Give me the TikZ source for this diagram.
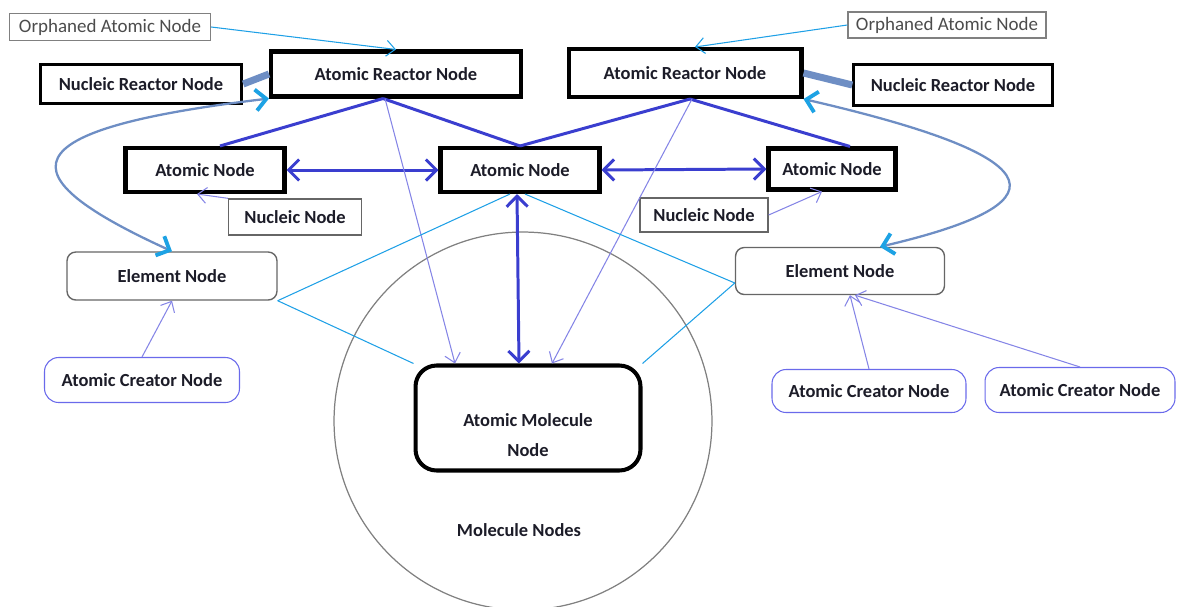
\documentclass[tikz,border=0pt]{standalone}
\usepackage{fontspec}
\setmainfont{Carlito}
\usetikzlibrary{arrows.meta}
\definecolor{skyline}{HTML}{1EA0E6}
\definecolor{bond}{HTML}{3A3ECF}
\definecolor{lilac}{HTML}{8585E6}
\definecolor{steel}{HTML}{6E8EC4}
\definecolor{tipblue}{HTML}{1DA2E4}
\definecolor{ink}{HTML}{1C1C28}

\begin{document}
\begin{tikzpicture}[x=0.02cm,y=-0.02cm,>={Straight Barb[length=5pt,width=9pt]},
  every node/.style={font=\fontsize{10.5}{17}\selectfont\bfseries,text=ink,inner sep=0pt},
  orphan/.style={draw=gray,line width=0.8pt,fill=white,font=\fontsize{10.8}{13}\selectfont,text=black!70},
  reactor/.style={draw=black,line width=2.3pt,fill=white},
  plainbox/.style={draw=gray!80!black,line width=0.8pt,fill=white},
  element/.style={draw=gray!80!black,line width=0.8pt,fill=white,rounded corners=5pt},
  creator/.style={draw=lilac!80!blue,line width=0.6pt,fill=white,rounded corners=8pt},
  bondline/.style={bond,line width=1.7pt},
  bondarrow/.style={bondline,{Straight Barb[length=6pt,width=12pt]}-{Straight Barb[length=6pt,width=12pt]}},
  thinarrow/.style={lilac,line width=0.6pt,->},
  cyanline/.style={skyline,line width=0.6pt},
  curvy/.style={steel,line width=1.3pt,{Straight Barb[color=tipblue,line width=2.2pt,length=6pt,width=12pt]}-{Straight Barb[color=tipblue,line width=2.2pt,length=6pt,width=12pt]}}]
  \useasboundingbox (0,0) rectangle (1177,606);
  \node[circle,draw=gray,line width=0.7pt,minimum size=7.56cm] (cloud) at (523,421) {};
  \node (cloudcap) at (519,530) {Molecule Nodes};

  \node[orphan,minimum width=4.02cm,minimum height=0.54cm] (orphL) at (110,27) {Orphaned Atomic Node};
  \node[orphan,minimum width=3.96cm,minimum height=0.52cm] (orphR) at (947,25) {Orphaned Atomic Node};
  \node[reactor,minimum width=5.0cm,minimum height=0.9cm] (reactL) at (396,74) {Atomic Reactor Node};
  \node[reactor,minimum width=4.66cm,minimum height=0.96cm] (reactR) at (685,73) {Atomic Reactor Node};
  \node[reactor,line width=1.7pt,minimum width=4.03cm,minimum height=0.77cm] (nucRL) at (141,84) {Nucleic Reactor Node};
  \node[reactor,line width=1.7pt,minimum width=3.97cm,minimum height=0.81cm] (nucRR) at (953,85) {Nucleic Reactor Node};
  \node[reactor,minimum width=3.18cm,minimum height=0.88cm] (atomL) at (205,170) {Atomic Node};
  \node[reactor,minimum width=3.18cm,minimum height=0.88cm] (atomC) at (520,170) {Atomic Node};
  \node[reactor,minimum width=2.54cm,minimum height=0.82cm] (atomR) at (832,169) {Atomic Node};
  \node[plainbox,minimum width=2.66cm,minimum height=0.72cm] (nuclL) at (295,217) {Nucleic Node};
  \node[plainbox,minimum width=2.56cm,minimum height=0.68cm] (nuclR) at (704,215) {Nucleic Node};
  \node[element,minimum width=4.2cm,minimum height=0.96cm] (elemL) at (172,276) {Element Node};
  \node[element,minimum width=4.18cm,minimum height=0.94cm] (elemR) at (840,271) {Element Node};
  \node[creator,minimum width=3.9cm,minimum height=0.9cm] (creatL) at (142,380) {Atomic Creator Node};
  \node[creator,minimum width=3.88cm,minimum height=0.86cm] (creatR) at (869,391) {Atomic Creator Node};
  \node[creator,minimum width=3.8cm,minimum height=0.9cm] (creatRR) at (1080,390) {Atomic Creator Node};
  \node[reactor,rounded corners=12pt,minimum width=4.5cm,minimum height=2.1cm,align=center] (mol) at (528,418) {\rule{0pt}{0.95cm}Atomic Molecule\\Node};

  \draw[cyanline,->] (orphL.east) -- (reactL.north);
  \draw[cyanline,->] (orphR.west) -- ([xshift=0.2cm]reactR.north);
  \draw[steel,line width=4pt] (nucRL.east) -- (reactL.west);
  \draw[steel,line width=4pt] (reactR.east) -- (nucRR.west);
  \draw[curvy] (reactL.south west) .. controls (5,130) and (5,175) .. (elemL.north);
  \draw[curvy] (reactR.south east) .. controls (1068,160) and (1058,205) .. ([xshift=0.8cm]elemR.north);
  \draw[bondline] ([xshift=-0.26cm]reactL.south) -- ([xshift=0.3cm]atomL.north);
  \draw[bondline] ([xshift=-0.26cm]reactL.south) -- (atomC.north);
  \draw[bondline] ([xshift=0.1cm]reactR.south) -- (atomC.north);
  \draw[bondline] ([xshift=0.1cm]reactR.south) -- ([xshift=0.36cm]atomR.north);
  \draw[bondarrow] (atomL.east) -- (atomC.west);
  \draw[bondarrow] (atomC.east) -- (atomR.west);
  \draw[bondarrow] ([xshift=-0.06cm]atomC.south) -- ([xshift=-0.18cm]mol.north);
  \draw[thinarrow] ([xshift=-0.22cm]reactL.south) -- ([xshift=-1.46cm]mol.north);
  \draw[thinarrow] ([xshift=0.14cm]reactR.south) -- ([xshift=0.48cm]mol.north);
  \draw[thinarrow] (nuclL.north west) -- ([xshift=-0.16cm]atomL.south);
  \draw[thinarrow] (nuclR.east) -- ([xshift=-0.2cm]atomR.south);
  \draw[thinarrow] (creatL.north) -- (elemL.south);
  \draw[thinarrow] (creatR.north) -- ([xshift=0.2cm]elemR.south);
  \draw[thinarrow] (creatRR.north) -- ([xshift=0.3cm]elemR.south);
  \draw[cyanline] (elemL.south east) -- ([xshift=-0.2cm]atomC.south);
  \draw[cyanline] (elemL.south east) -- (mol.north west);
  \draw[cyanline] ([xshift=0.1cm]atomC.south) -- ([yshift=-0.24cm]elemR.west);
  \draw[cyanline] ([yshift=-0.24cm]elemR.west) -- (mol.north east);
\end{tikzpicture}
\end{document}
